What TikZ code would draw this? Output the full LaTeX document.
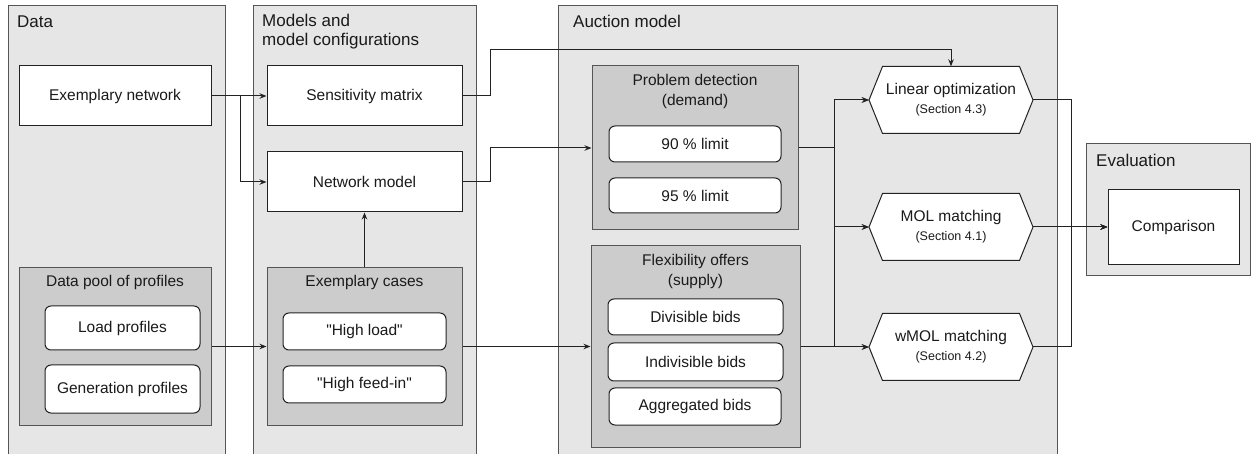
\documentclass[tikz,border=0pt]{standalone}
\usepackage{fontspec}
\setmainfont{Liberation Sans}[Ligatures=TeXOff]
\usetikzlibrary{arrows.meta,calc}
\definecolor{panelfill}{HTML}{E6E6E6}
\definecolor{groupfill}{HTML}{CCCCCC}
\definecolor{lineC}{HTML}{222222}
\definecolor{panelC}{HTML}{555555}
\definecolor{textC}{HTML}{1A1A1A}
\begin{document}
\begin{tikzpicture}[x=1pt,y=-1pt,
 panel/.style={fill=panelfill,draw=panelC,line width=1pt},
 ptitle/.style={anchor=base west,inner sep=0pt,font=\fontsize{17}{19}\selectfont,text=textC,align=left},
 box/.style={draw=lineC,fill=white,line width=1pt,inner sep=0pt,font=\fontsize{15.5}{18}\selectfont,text=textC},
 rbox/.style={box,rounded corners=6pt},
 group/.style={draw=panelC,fill=groupfill,line width=1pt,inner sep=0pt},
 gtitle/.style={inner sep=0pt,font=\fontsize{15.5}{20}\selectfont,align=center,text=textC},
 hexfill/.style={draw=lineC,fill=white,line width=1pt},
 hextext/.style={inner sep=0pt,minimum width=164pt,minimum height=67pt,align=center,font=\fontsize{15.5}{20}\selectfont,text=textC},
 arr/.style={-{Stealth[length=7pt,width=5.5pt]},draw=lineC,line width=1pt},
 con/.style={draw=lineC,line width=1pt},
]
\useasboundingbox (0,0) rectangle (1251,454);
% panels
\fill[panelfill] (8,6) rectangle (225,454);
\draw[panelC,line width=1pt] (8,454) -- (8,6) -- (225,6) -- (225,454);
\fill[panelfill] (253,6) rectangle (476,454);
\draw[panelC,line width=1pt] (253,454) -- (253,6) -- (476,6) -- (476,454);
\fill[panelfill] (558,6) rectangle (1057,454);
\draw[panelC,line width=1pt] (558,454) -- (558,6) -- (1057,6) -- (1057,454);
\draw[panel] (1086,144) rectangle (1250.5,276);
\node[ptitle] (tdata) at (17,28) {Data};
\node[ptitle] (tmodels) at (262,46) {Models and\\model configurations};
\node[ptitle] (tauction) at (573,28) {Auction model};
\node[ptitle] (teval) at (1096,167) {Evaluation};
% data
\node[box,minimum width=192pt,minimum height=60pt] (exnet) at (115,96) {Exemplary network};
\node[group,minimum width=192pt,minimum height=157pt] (pool) at (115,346.5) {};
\node[gtitle] (poolT) at (115,282) {Data pool of profiles};
\node[rbox,minimum width=155pt,minimum height=44pt] (load) at (122.5,328) {Load profiles};
\node[rbox,minimum width=155pt,minimum height=48pt] (gen) at (122.5,389) {Generation profiles};
% models
\node[box,minimum width=195pt,minimum height=60pt] (sens) at (364.5,96) {Sensitivity matrix};
\node[box,minimum width=195pt,minimum height=60pt] (netm) at (364.5,182) {Network model};
\node[group,minimum width=195pt,minimum height=157pt] (cases) at (364.5,346.5) {};
\node[gtitle] (casesT) at (364.5,282) {Exemplary cases};
\node[rbox,minimum width=163pt,minimum height=37pt] (hload) at (364.5,331.5) {"High load"};
\node[rbox,minimum width=163pt,minimum height=37pt] (hfeed) at (364.5,384.5) {"High feed-in"};
% auction
\node[group,minimum width=206pt,minimum height=164pt] (pd) at (695,148) {};
\node[gtitle] (pdT) at (695,91) {Problem detection\\(demand)};
\node[rbox,minimum width=172pt,minimum height=36pt] (p90) at (695,144) {90 \% limit};
\node[rbox,minimum width=172pt,minimum height=35pt] (p95) at (695,195.5) {95 \% limit};
\node[group,minimum width=209pt,minimum height=201pt] (flex) at (695.5,346.5) {};
\node[gtitle] (flexT) at (695.5,271.5) {Flexibility offers\\(supply)};
\node[rbox,minimum width=175pt,minimum height=36pt] (div) at (695.5,317) {Divisible bids};
\node[rbox,minimum width=175pt,minimum height=38pt] (indiv) at (695.5,362) {Indivisible bids};
\node[rbox,minimum width=172pt,minimum height=37pt] (agg) at (695,406.5) {Aggregated bids};
% hexagons
\path[hexfill] (869,100) -- ++(13.5,-33.5) -- ++(137,0) -- ++(13.5,33.5) -- ++(-13.5,33.5) -- ++(-137,0) -- cycle;
\node[hextext] (lin) at (951,100) {Linear optimization\\[-1pt]{\fontsize{12.5}{14}\selectfont (Section 4.3)}};
\path[hexfill] (869,227) -- ++(13.5,-33.5) -- ++(137,0) -- ++(13.5,33.5) -- ++(-13.5,33.5) -- ++(-137,0) -- cycle;
\node[hextext] (mol) at (951,227) {MOL matching\\[-1pt]{\fontsize{12.5}{14}\selectfont (Section 4.1)}};
\path[hexfill] (869,347) -- ++(13.5,-33.5) -- ++(137,0) -- ++(13.5,33.5) -- ++(-13.5,33.5) -- ++(-137,0) -- cycle;
\node[hextext] (wmol) at (951,347) {wMOL matching\\[-1pt]{\fontsize{12.5}{14}\selectfont (Section 4.2)}};
% evaluation
\node[box,minimum width=131pt,minimum height=75pt] (comp) at (1173.5,227) {Comparison};
% connectors
\draw[arr] (exnet.east) -- (sens.west);
\draw[arr] (exnet.east) -- ++(29,0) |- (netm.west);
\draw[arr] (pool.east) -- (cases.west);
\draw[arr] (cases.north) -- (netm.south);
\draw[arr] (sens.east) -- ++(28,0) |- ($(lin.north)+(0,-16.5)$) -- (lin.north);
\draw[arr] (netm.east) -- ++(28,0) |- (pd.west);
\draw[arr] (cases.east) -- (flex.west);
\coordinate (busx) at (834,0);
\foreach \s in {pd,flex}{
  \foreach \t in {lin,mol,wmol}{
    \draw[arr] (\s.east) -| (busx |- \t.west) -- (\t.west);
  }
}
\coordinate (outx) at (1071,0);
\draw[arr] (lin.east) -| (outx |- comp.west) -- (comp.west);
\draw[arr] (wmol.east) -| (outx |- comp.west) -- (comp.west);
\draw[arr] (mol.east) -- (comp.west);
\end{tikzpicture}
\end{document}
